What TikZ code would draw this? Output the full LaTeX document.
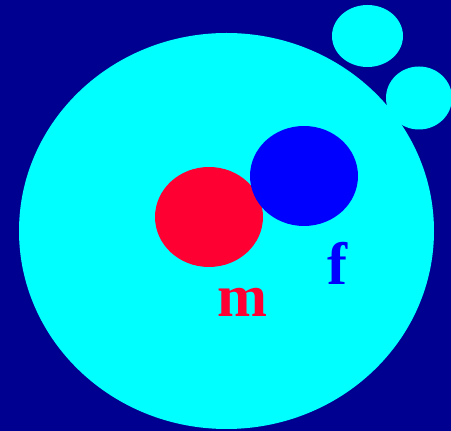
\documentclass[tikz,border=0pt]{standalone}
\usepackage{fontspec}
\setmainfont{Liberation Serif}
\definecolor{bg}{RGB}{0,0,144}
\definecolor{cy}{RGB}{0,255,255}
\definecolor{rd}{RGB}{255,0,51}
\definecolor{bl}{RGB}{0,0,255}
\begin{document}
\begin{tikzpicture}[x=1pt,y=1pt,
  lbl/.style={font=\bfseries\fontsize{60}{60}\selectfont, anchor=base, inner sep=0pt}]
\fill[bg] (0,0) rectangle (451,431);
\useasboundingbox (0,0) rectangle (451,431);
\fill[cy] (226.5,200) ellipse [x radius=207.5, y radius=198];
\fill[cy] (367.5,395) ellipse [x radius=35.5, y radius=31];
\fill[cy] (419,333) ellipse [x radius=33, y radius=31.5];
\fill[rd] (209,214) ellipse [x radius=54, y radius=50];
\fill[bl] (304,255) ellipse [x radius=54, y radius=50];
\node[lbl, text=rd] (m) at (242,114) {m};
\node[lbl, text=bl] (f) at (337,146) {f};
\end{tikzpicture}
\end{document}
